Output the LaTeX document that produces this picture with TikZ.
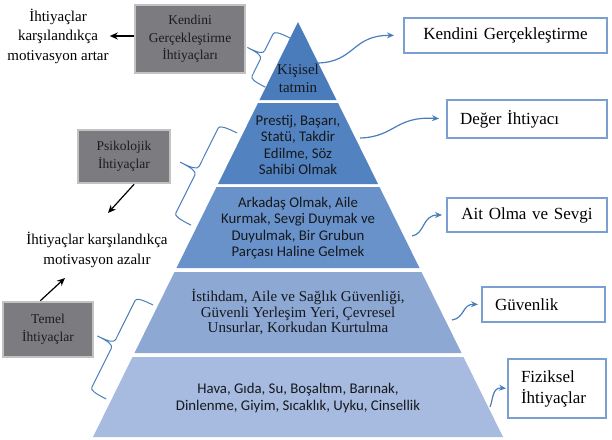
\documentclass[tikz,border=0pt]{standalone}
\usepackage{fontspec}
\setmainfont{Liberation Serif}
\newfontfamily\calibri{Carlito}
\usetikzlibrary{arrows.meta}

\definecolor{layA}{HTML}{4A7CBB}
\definecolor{layB}{HTML}{5283C0}
\definecolor{layC}{HTML}{6892C9}
\definecolor{layD}{HTML}{8CA8D3}
\definecolor{layE}{HTML}{A6BBDF}
\definecolor{pyrtext}{HTML}{16181D}
\definecolor{boxline}{HTML}{7B9FD0}
\definecolor{arrowblue}{HTML}{4A7DBB}
\definecolor{grayfill}{HTML}{7C7C80}
\definecolor{grayline}{HTML}{C2C2C2}
\definecolor{graytext}{HTML}{1C1C1C}

%Brace along the left side of the pyramid: top tip, length, depth
\newcommand{\needbrace}[3]{%
  \begin{scope}[shift={#1},rotate=243.5]
    \draw[bracestroke] (0,0) .. controls (0,{0.7*#3}) and (1,#3) .. (4,#3)
      -- ({#2/2-5},#3) .. controls ({#2/2-1},#3) and ({#2/2},{1.3*#3}) .. ({#2/2},{2*#3})
      .. controls ({#2/2},{1.3*#3}) and ({#2/2+1},#3) .. ({#2/2+5},#3)
      -- ({#2-4},#3) .. controls ({#2-1},#3) and (#2,{0.7*#3}) .. (#2,0);
  \end{scope}}

\begin{document}
\begin{tikzpicture}[x=1pt,y=-1pt,
     layertext/.style={text=pyrtext,align=center,inner sep=0pt},
     sanstext/.style={layertext,font=\calibri\fontsize{14.8}{16.5}\selectfont},
     seriftext/.style={layertext,font=\fontsize{15}{15.8}\selectfont},
     levelbox/.style={draw=boxline,line width=2pt,fill=white,inner xsep=13pt,inner ysep=0pt,
                      font=\fontsize{17}{21}\selectfont,minimum height=35pt,anchor=north west},
     groupbox/.style={draw=grayline,line width=2.5pt,fill=grayfill,text=graytext,align=center,
                      inner sep=0pt,font=\fontsize{13.5}{17.5}\selectfont},
     notetext/.style={align=center,inner sep=1pt,font=\fontsize{15}{19.5}\selectfont},
     bluearrow/.style={draw=arrowblue,line width=1.2pt,-{Stealth[length=7pt,width=6pt]}},
     blackarrow/.style={draw=black,line width=1.2pt,-{Stealth[length=8pt,width=7pt]}},
     bracestroke/.style={draw=arrowblue,line width=1pt}
     ]
\useasboundingbox (0,0) rectangle (612,439);

%Apex of the pyramid and slope of its sides
\def \apexx{298}
\def \apexy{22}
\def \slope{0.494}

%Draw the pyramid layers
\foreach \ytop/\ybot/\col in {22/100/layA,103/184/layB,187/268/layC,272/353/layD,357/437/layE}
{
\pgfmathsetmacro{\wtop}{\slope*(\ytop-\apexy)}
\pgfmathsetmacro{\wbot}{\slope*(\ybot-\apexy)}
\fill[\col] ({\apexx-\wtop},\ytop) -- ({\apexx+\wtop},\ytop) -- ({\apexx+\wbot},\ybot) -- ({\apexx-\wbot},\ybot) -- cycle;
}

%Texts inside the layers
\node[seriftext,font=\fontsize{15}{18}\selectfont] (tatmin) at (298,78) {Kişisel\\tatmin};
\node[sanstext] (prestij) at (298,145) {Prestij, Başarı,\\Statü, Takdir\\Edilme, Söz\\Sahibi Olmak};
\node[sanstext] (arkadas) at (298,228) {Arkadaş Olmak, Aile\\Kurmak, Sevgi Duymak ve\\Duyulmak, Bir Grubun\\Parçası Haline Gelmek};
\node[seriftext] (istihdam) at (298,312) {İstihdam, Aile ve Sağlık Güvenliği,\\Güvenli Yerleşim Yeri, Çevresel\\Unsurlar, Korkudan Kurtulma};
\node[sanstext] (hava) at (298,398) {Hava, Gıda, Su, Boşaltım, Barınak,\\Dinlenme, Giyim, Sıcaklık, Uyku, Cinsellik};

%Boxes on the right
\node[levelbox,text width=177pt,align=center] (selfBox) at (403,17) {Kendini Gerçekleştirme};
\node[levelbox,text width=134pt,align=left,minimum height=38pt] (esteemBox) at (446,99) {Değer İhtiyacı};
\node[levelbox,text width=134pt,align=center,minimum height=34pt] (loveBox) at (446,197) {Ait Olma ve Sevgi};
\node[levelbox,text width=97pt,align=left] (safeBox) at (481,286) {Güvenlik};
\node[levelbox,text width=72pt,align=left,minimum height=59pt] (bodyBox) at (507,358) {Fiziksel\\İhtiyaçlar};

%Curved arrows from the layers to the boxes
\coordinate (tatminOut) at (318,63);
\coordinate (prestijOut) at (360,138);
\coordinate (arkadasOut) at (412,236);
\coordinate (istihdamOut) at (452,320);
\coordinate (havaOut) at (490,407);
\draw[bluearrow,shorten >=9pt] (tatminOut) .. controls (355,62) and (352,35) .. (selfBox.west);
\draw[bluearrow,shorten >=7pt] (prestijOut) .. controls (395,137) and (395,116) .. (esteemBox.west);
\draw[bluearrow,shorten >=4pt] (arkadasOut) .. controls (425,234) and (422,215) .. (loveBox.west);
\draw[bluearrow,shorten >=3pt] (istihdamOut) .. controls (465,318) and (462,304) .. (safeBox.west);
\draw[bluearrow,shorten >=1pt] (havaOut) .. controls (493,400) and (492,387) .. (bodyBox.west);

%Grey group boxes on the left
\node[groupbox,minimum width=110pt,minimum height=68pt] (selfGroup) at (190,39) {Kendini\\Gerçekleştirme\\İhtiyaçları};
\node[groupbox,minimum width=92pt,minimum height=53pt] (psyGroup) at (124,156.5) {Psikolojik\\İhtiyaçlar};
\node[groupbox,minimum width=90pt,minimum height=55pt] (basicGroup) at (48,329.5) {Temel\\İhtiyaçlar};

%Braces that group the layers
\needbrace{(290,38)}{55}{17}
\needbrace{(237,133)}{103}{19}
\needbrace{(153,305)}{105}{18}

%Notes and black arrows
\node[notetext] (upNote) at (58,36) {İhtiyaçlar\\karşılandıkça\\motivasyon artar};
\node[notetext] (downNote) at (97,250) {İhtiyaçlar karşılandıkça\\motivasyon azalır};
\coordinate (psyTip) at (108,213);
\coordinate (basicTip) at (65,278);
\draw[blackarrow] (selfGroup.west |- upNote.east) -- (upNote.east);
\draw[blackarrow] (psyGroup.-70) -- (psyTip);
\draw[blackarrow] (basicGroup.105) -- (basicTip);
\end{tikzpicture}
\end{document}
